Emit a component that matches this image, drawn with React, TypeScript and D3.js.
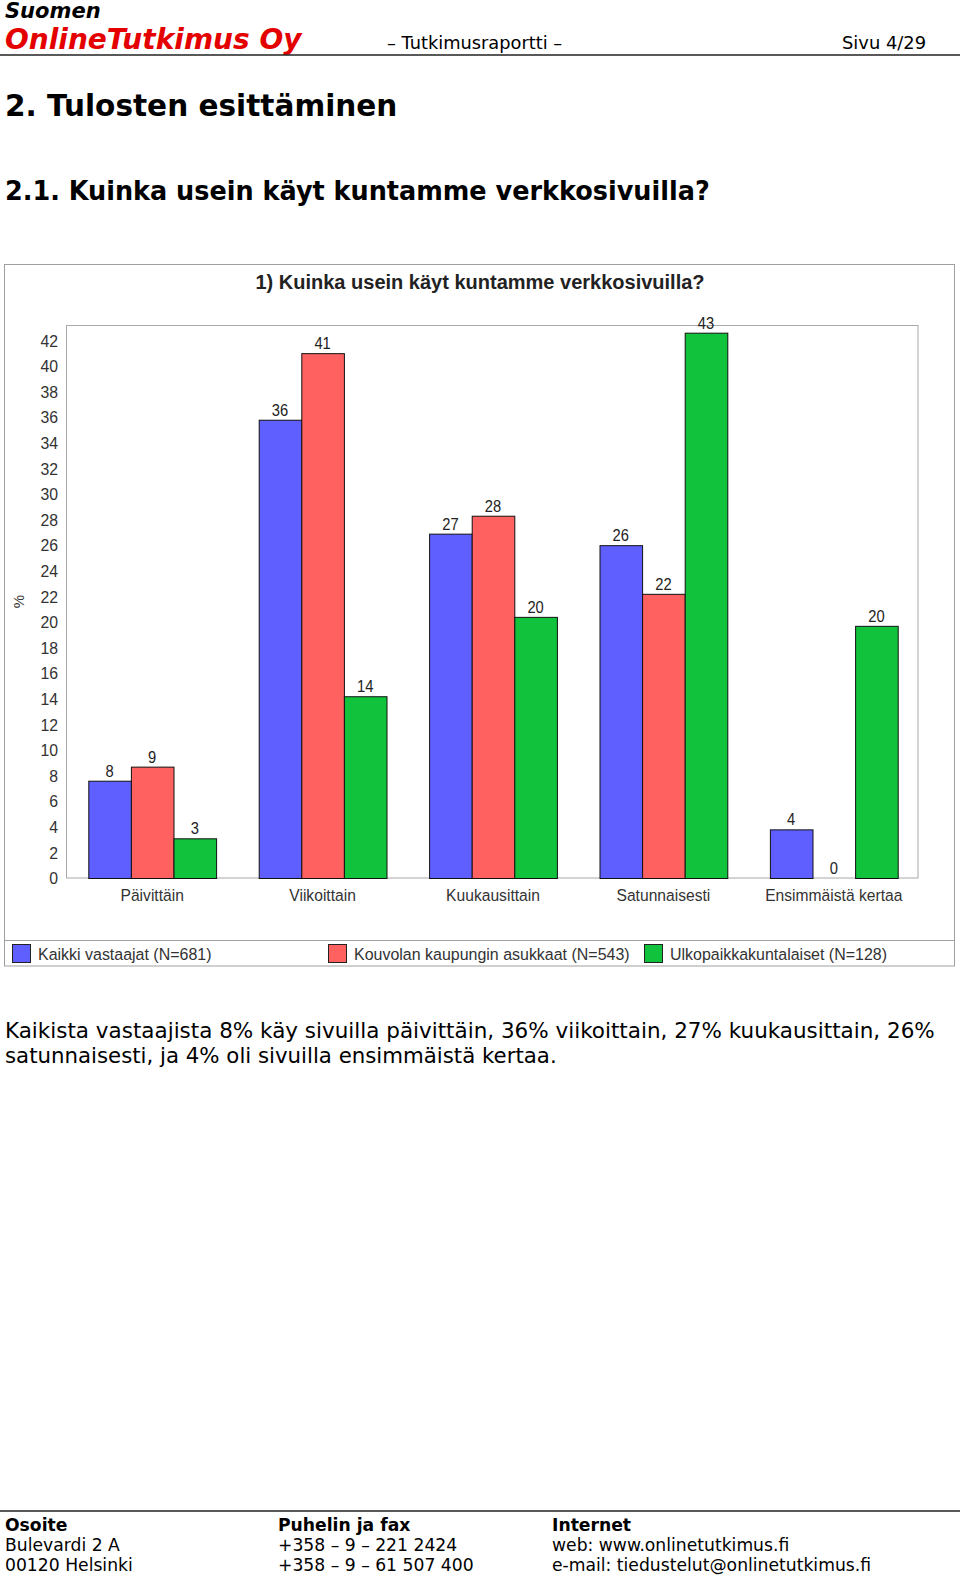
import React from "react";
import * as d3 from "d3";

// ---- data ----
const categories = ["Päivittäin", "Viikoittain", "Kuukausittain", "Satunnaisesti", "Ensimmäistä kertaa"];
const seriesNames = ["Kaikki vastaajat (N=681)", "Kouvolan kaupungin asukkaat (N=543)", "Ulkopaikkakuntalaiset (N=128)"];
const kaikki = [7.6, 35.8, 26.9, 26.0, 3.8];
const kouvola = [8.7, 41.0, 28.3, 22.2, 0];
const ulko = [3.1, 14.2, 20.4, 42.6, 19.7];
const yTickValues = [0, 2, 4, 6, 8, 10, 12, 14, 16, 18, 20, 22, 24, 26, 28, 30, 32, 34, 36, 38, 40, 42];
const seriesColors = ["#5f5fff", "#ff6161", "#10c23c"];

const PAGE_FONT = "'DejaVu Sans', Verdana, sans-serif";
const CHART_FONT = "'Liberation Sans', Arial, sans-serif";

type TProps = {
  x: number; y: number; size: number; sx?: number; anchor?: string; weight?: string | number;
  italic?: boolean; fill?: string; family?: string; baseline?: string; children: React.ReactNode;
};
function T({ x, y, size, sx = 1, anchor = "start", weight = "normal", italic = false, fill = "#000", family = PAGE_FONT, baseline, children }: TProps) {
  return (
    <text
      transform={`translate(${x},${y}) scale(${sx},1)`}
      fontSize={size}
      fontFamily={family}
      fontWeight={weight}
      fontStyle={italic ? "italic" : "normal"}
      textAnchor={anchor}
      fill={fill}
      dominantBaseline={baseline}
    >
      {children}
    </text>
  );
}

export default function App() {
  const series = [kaikki, kouvola, ulko];
  const x0 = d3.scaleBand<string>().domain(categories).range([67, 919]).paddingInner(0.25).paddingOuter(0.125);
  const x1 = d3.scaleBand<number>().domain([0, 1, 2]).range([0, x0.bandwidth()]).padding(0);
  const y = d3.scaleLinear().domain([0, 43.2]).range([878, 325]);

  const legendX = [12, 328, 644];

  return (
    <svg width={960} height={1576} style={{ position: "absolute", left: 0, top: 0, background: "#fff" }}>
      <rect x={0} y={0} width={960} height={1576} fill="#fff" />
      {/* header */}
      <T x={5} y={18} size={21} weight="bold" italic>Suomen</T>
      <T x={5} y={49} size={28} weight="bold" italic fill="#e50000">OnlineTutkimus Oy</T>
      <T x={387} y={49} size={17.8}>– Tutkimusraportti –</T>
      <T x={842} y={49} size={17.9}>Sivu 4/29</T>
      <line x1={0} x2={960} y1={55} y2={55} stroke="#222" strokeWidth={1.5} />

      <T x={5} y={116} size={30} sx={0.985} weight="bold">2. Tulosten esittäminen</T>
      <T x={5} y={200} size={27} sx={0.945} weight="bold">2.1. Kuinka usein käyt kuntamme verkkosivuilla?</T>

      {/* chart frame */}
      <rect x={4.5} y={264.5} width={950} height={701.5} fill="#fff" stroke="#a0a0a0" strokeWidth={1} />
      <line x1={4.5} x2={954.5} y1={940.5} y2={940.5} stroke="#a0a0a0" />
      <T x={480} y={289} size={20} weight="bold" anchor="middle" family={CHART_FONT} fill="#222">
        1) Kuinka usein käyt kuntamme verkkosivuilla?
      </T>

      {/* plot frame */}
      <rect x={66.5} y={325.5} width={851.5} height={552.5} fill="#fff" stroke="#a8a8a8" />

      {/* y ticks */}
      {yTickValues.map((v) => (
        <T key={v} x={58} y={y(v)} size={17} sx={0.93} anchor="end" family={CHART_FONT} fill="#333" baseline="central">
          {v}
        </T>
      ))}
      <g transform={`translate(24,${(y(0) + y(43.2)) / 2}) rotate(-90)`}>
        <text fontSize={15} fontFamily={CHART_FONT} textAnchor="middle" fill="#333">%</text>
      </g>

      {/* bars */}
      {categories.map((c, i) => (
        <g key={c} transform={`translate(${x0(c)},0)`}>
          {series.map((s, j) => {
            const v = s[i];
            const bx = x1(j) as number;
            const bw = x1.bandwidth();
            return (
              <g key={j}>
                {v > 0 && (
                  <rect x={bx + 0.5} y={y(v) + 0.5} width={bw} height={y(0) - y(v)} fill={seriesColors[j]} stroke="#111" strokeWidth={1} />
                )}
                <T x={bx + bw / 2} y={y(v) - 4} size={16} sx={0.92} anchor="middle" family={CHART_FONT} fill="#222">
                  {Math.round(v)}
                </T>
              </g>
            );
          })}
          <T x={x0.bandwidth() / 2} y={901} size={17} sx={0.92} anchor="middle" family={CHART_FONT} fill="#333">
            {c}
          </T>
        </g>
      ))}

      {/* legend */}
      {seriesNames.map((n, j) => (
        <g key={n}>
          <rect x={legendX[j] + 0.5} y={944.5} width={18} height={18} fill={seriesColors[j]} stroke="#222" />
          <T x={legendX[j] + 26} y={960} size={17} sx={0.94} family={CHART_FONT} fill="#333">{n}</T>
        </g>
      ))}

      {/* body text */}
      <T x={5} y={1038} size={21.4} sx={1.004}>Kaikista vastaajista 8% käy sivuilla päivittäin, 36% viikoittain, 27% kuukausittain, 26%</T>
      <T x={5} y={1063} size={21.3}>satunnaisesti, ja 4% oli sivuilla ensimmäistä kertaa.</T>

      {/* footer */}
      <line x1={0} x2={960} y1={1511} y2={1511} stroke="#222" strokeWidth={1.5} />
      <T x={5} y={1531} size={17.2} weight="bold">Osoite</T>
      <T x={5} y={1551} size={17.2}>Bulevardi 2 A</T>
      <T x={5} y={1571} size={17.2}>00120 Helsinki</T>
      <T x={278} y={1531} size={17.2} weight="bold">Puhelin ja fax</T>
      <T x={278} y={1551} size={17.2}>+358 – 9 – 221 2424</T>
      <T x={278} y={1571} size={17.2}>+358 – 9 – 61 507 400</T>
      <T x={552} y={1531} size={17.2} weight="bold">Internet</T>
      <T x={552} y={1551} size={17.2}>web: www.onlinetutkimus.fi</T>
      <T x={552} y={1571} size={17.2}>e-mail: tiedustelut@onlinetutkimus.fi</T>
    </svg>
  );
}
